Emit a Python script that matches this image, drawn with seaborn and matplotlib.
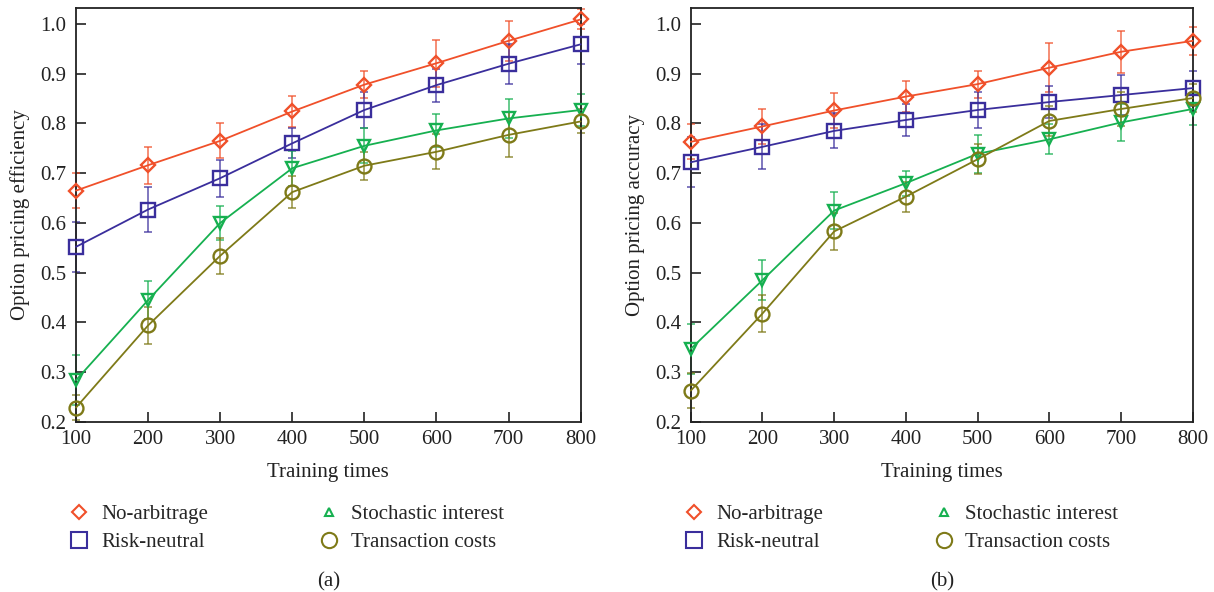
import numpy as np
import pandas as pd
import matplotlib
matplotlib.use("Agg")
import matplotlib.pyplot as plt
from matplotlib.lines import Line2D
import seaborn as sns

training_times = [100, 200, 300, 400, 500, 600, 700, 800]
series_names = ["No-arbitrage", "Risk-neutral", "Stochastic interest", "Transaction costs"]

# Panel (a): option pricing efficiency
eff_no_arbitrage = [0.665, 0.716, 0.765, 0.824, 0.878, 0.921, 0.966, 1.009]
eff_risk_neutral = [0.552, 0.627, 0.690, 0.760, 0.827, 0.877, 0.920, 0.959]
eff_stochastic = [0.284, 0.445, 0.600, 0.710, 0.755, 0.786, 0.810, 0.827]
eff_transaction = [0.229, 0.394, 0.534, 0.662, 0.715, 0.743, 0.777, 0.804]
err_eff_no_arbitrage = [0.035, 0.037, 0.035, 0.032, 0.027, 0.047, 0.040, 0.020]
err_eff_risk_neutral = [0.050, 0.045, 0.037, 0.030, 0.036, 0.033, 0.040, 0.040]
err_eff_stochastic = [0.050, 0.038, 0.035, 0.035, 0.035, 0.033, 0.039, 0.032]
err_eff_transaction = [0.025, 0.038, 0.036, 0.032, 0.028, 0.035, 0.045, 0.024]

# Panel (b): option pricing accuracy
acc_no_arbitrage = [0.763, 0.794, 0.826, 0.854, 0.879, 0.912, 0.944, 0.966]
acc_risk_neutral = [0.722, 0.753, 0.785, 0.807, 0.827, 0.843, 0.857, 0.871]
acc_stochastic = [0.347, 0.485, 0.625, 0.680, 0.739, 0.768, 0.802, 0.829]
acc_transaction = [0.263, 0.418, 0.583, 0.653, 0.728, 0.805, 0.829, 0.851]
err_acc_no_arbitrage = [0.035, 0.036, 0.036, 0.032, 0.027, 0.049, 0.042, 0.028]
err_acc_risk_neutral = [0.050, 0.045, 0.035, 0.033, 0.036, 0.033, 0.040, 0.035]
err_acc_stochastic = [0.050, 0.040, 0.037, 0.025, 0.038, 0.030, 0.038, 0.032]
err_acc_transaction = [0.035, 0.038, 0.037, 0.030, 0.030, 0.030, 0.035, 0.028]

y_ticks = [0.2, 0.3, 0.4, 0.5, 0.6, 0.7, 0.8, 0.9, 1.0]

colors = {"No-arbitrage": "#F0502A", "Risk-neutral": "#3A2E9C",
          "Stochastic interest": "#16B050", "Transaction costs": "#7E7A18"}
markers = {"No-arbitrage": "D", "Risk-neutral": "s",
           "Stochastic interest": "v", "Transaction costs": "o"}
msizes = {"No-arbitrage": 7.5, "Risk-neutral": 9.5,
          "Stochastic interest": 8.5, "Transaction costs": 10}

sns.set_theme(style="ticks")
plt.rcParams["font.family"] = ["Liberation Serif", "DejaVu Serif"]
plt.rcParams["mathtext.fontset"] = "stix"

FS = 15
TXT = "#222222"

fig = plt.figure(figsize=(12.14, 5.92), dpi=100)
ax_a = fig.add_axes([0.0626, 0.2872, 0.4157, 0.6993])
ax_b = fig.add_axes([0.5690, 0.2872, 0.4135, 0.6993])


def draw(ax, vals, errs, ylabel, caption):
    rows = []
    for name, v in zip(series_names, vals):
        for x, y in zip(training_times, v):
            rows.append({"Training times": x, "value": y, "series": name})
    df = pd.DataFrame(rows)
    for name, e, v in zip(series_names, errs, vals):
        eb = ax.errorbar(training_times, v, yerr=e, fmt="none", ecolor=colors[name],
                         alpha=0.7, elinewidth=1.3, capsize=3, capthick=1.3, zorder=2)
        for art in list(eb.lines[1]) + list(eb.lines[2]):
            art.set_clip_on(False)
    for name in series_names:
        sub = df[df["series"] == name]
        sns.lineplot(data=sub, x="Training times", y="value", ax=ax,
                     color=colors[name], marker=markers[name], markersize=msizes[name],
                     markerfacecolor="none", markeredgecolor=colors[name],
                     markeredgewidth=1.7, linewidth=1.3, zorder=3, clip_on=False)
    ax.set_xlim(100, 800)
    ax.set_ylim(0.2, 1.032)
    ax.set_xticks(training_times)
    ax.set_yticks(y_ticks)
    ax.set_yticklabels([f"{t:.1f}" for t in y_ticks])
    ax.tick_params(direction="in", length=7, width=1.2, labelsize=FS, colors=TXT)
    ax.tick_params(axis="y", pad=7)
    ax.tick_params(axis="x", pad=6)
    for s in ax.spines.values():
        s.set_linewidth(1.3)
        s.set_color(TXT)
    ax.set_xlabel("Training times", fontsize=FS, labelpad=10, color=TXT)
    ax.set_ylabel(ylabel, fontsize=FS, labelpad=7, color=TXT)

    handles = [
        Line2D([], [], linestyle="none", marker="D", markersize=7, markerfacecolor="none",
               markeredgecolor=colors["No-arbitrage"], markeredgewidth=1.5),
        Line2D([], [], linestyle="none", marker="s", markersize=11, markerfacecolor="none",
               markeredgecolor=colors["Risk-neutral"], markeredgewidth=1.5),
        Line2D([], [], linestyle="none", marker="^", markersize=6, markerfacecolor="none",
               markeredgecolor=colors["Stochastic interest"], markeredgewidth=1.5),
        Line2D([], [], linestyle="none", marker="o", markersize=11, markerfacecolor="none",
               markeredgecolor=colors["Transaction costs"], markeredgewidth=1.5),
    ]
    ax.legend(handles, series_names, loc="upper left", bbox_to_anchor=(-0.035, -0.18),
              ncol=2, frameon=False, fontsize=FS, handlelength=1.2, handletextpad=0.45,
              columnspacing=5.2, labelspacing=0.4, borderaxespad=0)
    ax.text(0.5, -0.387, caption, transform=ax.transAxes, ha="center", va="center",
            fontsize=FS, color=TXT)


draw(ax_a, [eff_no_arbitrage, eff_risk_neutral, eff_stochastic, eff_transaction],
     [err_eff_no_arbitrage, err_eff_risk_neutral, err_eff_stochastic, err_eff_transaction],
     "Option pricing efficiency", "(a)")
draw(ax_b, [acc_no_arbitrage, acc_risk_neutral, acc_stochastic, acc_transaction],
     [err_acc_no_arbitrage, err_acc_risk_neutral, err_acc_stochastic, err_acc_transaction],
     "Option pricing accuracy", "(b)")

fig.savefig("out.png", dpi=100)
